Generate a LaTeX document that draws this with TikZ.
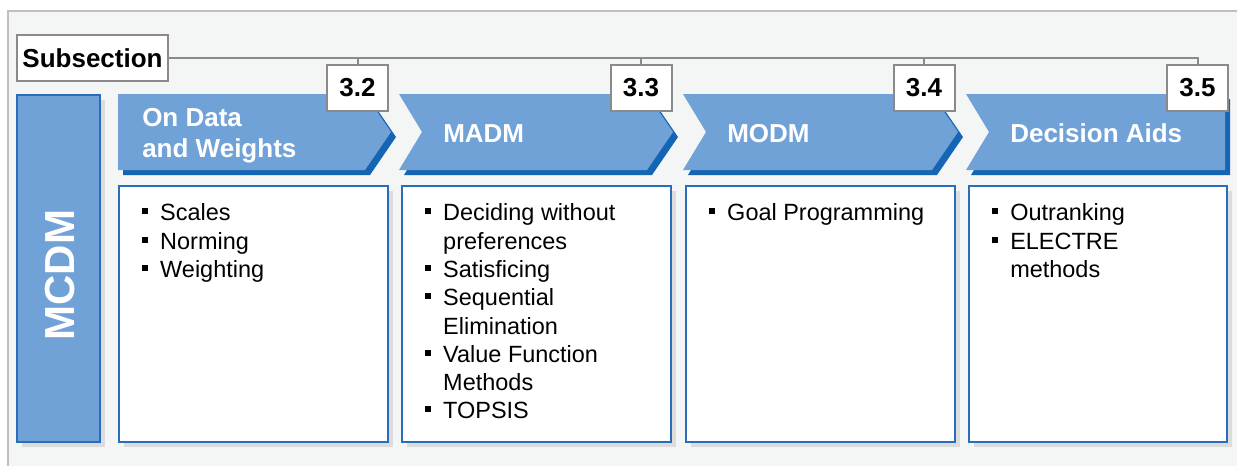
\documentclass[tikz,border=0pt]{standalone}
\usepackage{fontspec}
\setmainfont{Liberation Sans}
\definecolor{bgfill}{HTML}{F4F6F6}
\definecolor{bgline}{HTML}{C0C0C0}
\definecolor{lblue}{HTML}{71A2D7}
\definecolor{dblue}{HTML}{1565B5}
\definecolor{bline}{HTML}{2A6EBB}
\definecolor{gline}{HTML}{8A8A8A}
\definecolor{shade}{HTML}{DCDCDC}
\newcommand{\itm}{\makebox[13.7pt][l]{\rule[0.28em]{0.255em}{0.255em}}}
\newcommand{\ind}{\hspace*{13.7pt}}
\newcommand{\topline}{\rule{0pt}{1em}}
\tikzset{
  tagbox/.style={draw=gline, line width=1.5pt, fill=white, inner sep=0pt,
    font=\fontsize{19.5}{23}\selectfont\bfseries},
  conn/.style={draw=gline, line width=1.5pt},
  chev/.style={fill=lblue},
  chevshadow/.style={fill=dblue},
  boxshadow/.style={fill=shade},
  itembox/.style={draw=bline, line width=1.5pt, fill=white},
  title/.style={text=white, font=\fontsize{19.5}{23.25}\selectfont\bfseries,
    inner sep=0pt, align=left},
  items/.style={font=\fontsize{17.6}{21.2}\selectfont, inner sep=0pt,
    anchor=north west, align=left}
}
\begin{document}
\begin{tikzpicture}[x=0.75pt,y=-0.75pt]
\useasboundingbox (0,0) rectangle (1237,465);
\filldraw[fill=bgfill, draw=bgline, line width=1.2pt] (8,11) rectangle (1250,480);

% MCDM box
\fill[boxshadow] (22,100) rectangle (105,447);
\filldraw[fill=lblue, draw=bline, line width=1.5pt] (17,95) rectangle (100,442);
\node[rotate=90, text=white, font=\fontsize{31.5}{36}\selectfont\bfseries, inner sep=0pt] (mcdm) at (60,275) {MCDM};

% chevrons (shadow then face)
\begin{scope}[shift={(5,5)}]
\fill[chevshadow] (118,94) -- (365,94) -- (391,132) -- (365,170) -- (118,170) -- cycle;
\fill[chevshadow] (399,94) -- (647,94) -- (673,132) -- (647,170) -- (399,170) -- (422,132) -- cycle;
\fill[chevshadow] (683,94) -- (932,94) -- (958,132) -- (932,170) -- (683,170) -- (706,132) -- cycle;
\fill[chevshadow] (966,94) -- (1225,94) -- (1225,170) -- (966,170) -- (989,132) -- cycle;
\end{scope}
\fill[chev] (118,94) -- (365,94) -- (391,132) -- (365,170) -- (118,170) -- cycle;
\fill[chev] (399,94) -- (647,94) -- (673,132) -- (647,170) -- (399,170) -- (422,132) -- cycle;
\fill[chev] (683,94) -- (932,94) -- (958,132) -- (932,170) -- (683,170) -- (706,132) -- cycle;
\fill[chev] (966,94) -- (1225,94) -- (1225,170) -- (966,170) -- (989,132) -- cycle;

\node[title, anchor=north west] (t1) at (142,100) {\topline On Data\\and Weights};
\node[title, anchor=base west] (t2) at (443,142) {MADM};
\node[title, anchor=base west] (t3) at (727,142) {MODM};
\node[title, anchor=base west] (t4) at (1010,142) {Decision Aids};

% item boxes
\fill[boxshadow] (124,191) rectangle (393,447);
\fill[boxshadow] (407,191) rectangle (676,447);
\fill[boxshadow] (691,191) rectangle (960,447);
\fill[boxshadow] (974,191) rectangle (1232,447);
\draw[itembox] (119,186) rectangle (388,442);
\draw[itembox] (402,186) rectangle (671,442);
\draw[itembox] (686,186) rectangle (955,442);
\draw[itembox] (969,186) rectangle (1227,442);

\node[items] (i1) at (141.7,197.2) {\topline\itm Scales\\\itm Norming\\\itm Weighting};
\node[items] (i2) at (424.7,197.2) {\topline\itm Deciding without\\\ind preferences\\\itm Satisficing\\\itm Sequential\\\ind Elimination\\\itm Value Function\\\ind Methods\\\itm TOPSIS};
\node[items] (i3) at (708.7,197.2) {\topline\itm Goal Programming};
\node[items] (i4) at (991.7,197.2) {\topline\itm Outranking\\\itm ELECTRE\\\ind methods};

% subsection and tags
\node[tagbox, minimum width=113.25pt, minimum height=34.5pt] (sub) at (92.5,58) {Subsection};
\node[tagbox, minimum width=45.75pt, minimum height=34.5pt] (l32) at (357.5,88) {3.2};
\node[tagbox, minimum width=45.75pt, minimum height=34.5pt] (l33) at (641,88) {3.3};
\node[tagbox, minimum width=45.75pt, minimum height=34.5pt] (l34) at (924,88) {3.4};
\node[tagbox, minimum width=45.75pt, minimum height=34.5pt] (l35) at (1197.5,88) {3.5};
\draw[conn] (sub.east) -- (sub.east -| l35.north) -- (l35.north);
\draw[conn] (l32.north) -- (l32.north |- sub.east);
\draw[conn] (l33.north) -- (l33.north |- sub.east);
\draw[conn] (l34.north) -- (l34.north |- sub.east);
\end{tikzpicture}
\end{document}
